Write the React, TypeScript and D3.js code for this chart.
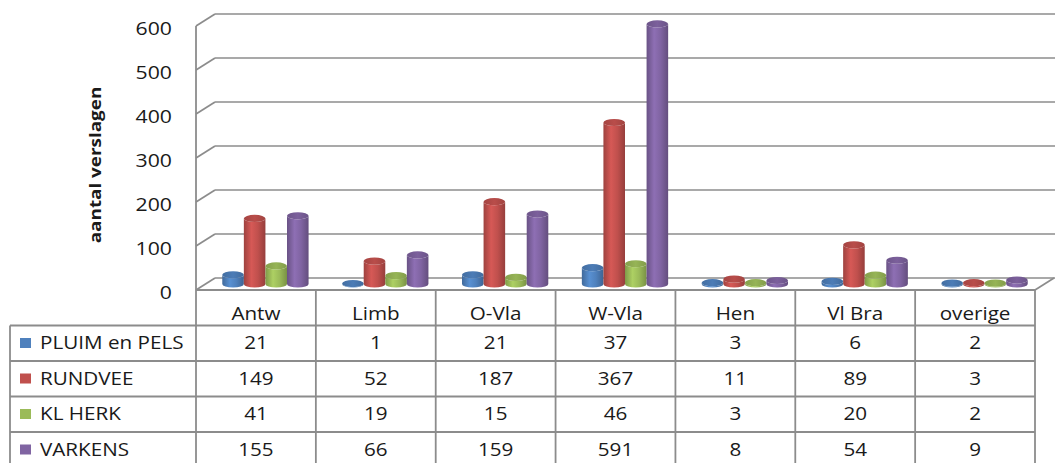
import * as d3 from "d3";

const categories = ["Antw", "Limb", "O-Vla", "W-Vla", "Hen", "Vl Bra", "overige"];
const seriesNames = ["PLUIM en PELS", "RUNDVEE", "KL HERK", "VARKENS"];
const seriesColors = ["#4F81BD", "#C0504D", "#9BBB59", "#8064A2"];
const pluimEnPels = [21, 1, 21, 37, 3, 6, 2];
const rundvee = [149, 52, 187, 367, 11, 89, 3];
const klHerk = [41, 19, 15, 46, 3, 20, 2];
const varkens = [155, 66, 159, 591, 8, 54, 9];
const seriesValues = [pluimEnPels, rundvee, klHerk, varkens];
const yTicks = [0, 100, 200, 300, 400, 500, 600];

const W = 1057;
const H = 463;
// 3d depth offset of the back wall
const DX = 19;
const DY = -12;
const GRID = "#8c8c8c";
const FONT = "'Open Sans', 'DejaVu Sans', sans-serif";
const SX = 1.18; // Excel text looks horizontally stretched

const x = d3.scaleBand<string>().domain(categories).range([196, 1035]);
const yFront = d3.scaleLinear().domain([0, 600]).range([290, 26]);
const yMid = (v: number) => yFront(v) + DY / 2;
const rows = d3
  .scaleBand<string>()
  .domain(["header", ...seriesNames])
  .range([290, 290 + 35.5 * 5]);
const inner = d3
  .scaleBand<number>()
  .domain(d3.range(seriesNames.length))
  .range([0, x.bandwidth() * 0.72]);

function Label({ x, y, size = 17.5, anchor = "middle", weight = 400, rotate = false, children }: any) {
  return (
    <text
      transform={`translate(${x},${y})${rotate ? " rotate(-90)" : ""} scale(${SX},1)`}
      textAnchor={anchor}
      fontSize={size}
      fontWeight={weight}
      fill="#1a1a1a"
      fontFamily={FONT}
    >
      {children}
    </text>
  );
}

function Cylinder({ cx, w, base, top, i }: any) {
  const rx = w / 2;
  const ry = 3.6;
  const body = `M${cx - rx},${top} L${cx - rx},${base} A${rx},${ry} 0 0 0 ${cx + rx},${base} L${cx + rx},${top} A${rx},${ry} 0 0 1 ${cx - rx},${top} Z`;
  return (
    <g>
      <path d={body} fill={`url(#body${i})`} />
      <ellipse cx={cx} cy={top} rx={rx} ry={ry} fill={`url(#cap${i})`} />
    </g>
  );
}

export default function App() {
  const left = 196;
  const right = 1035;
  const tableBottom = H + 5;

  return (
    <svg
      width={W}
      height={H}
      style={{ position: "absolute", left: 0, top: 0, background: "#fff" }}
    >
      <defs>
        {seriesColors.map((c, i) => {
          const base = d3.color(c)!;
          return (
            <g key={i}>
              <linearGradient id={`body${i}`} x1="0" x2="1" y1="0" y2="0">
                <stop offset="0%" stopColor={base.darker(0.55).formatHex()} />
                <stop offset="35%" stopColor={base.brighter(0.3).formatHex()} />
                <stop offset="65%" stopColor={base.formatHex()} />
                <stop offset="100%" stopColor={base.darker(0.7).formatHex()} />
              </linearGradient>
              <linearGradient id={`cap${i}`} x1="0" x2="1" y1="0" y2="0">
                <stop offset="0%" stopColor={base.darker(0.45).formatHex()} />
                <stop offset="50%" stopColor={base.darker(0.1).formatHex()} />
                <stop offset="100%" stopColor={base.darker(0.5).formatHex()} />
              </linearGradient>
            </g>
          );
        })}
      </defs>

      {/* walls and gridlines */}
      {yTicks.map((t) => (
        <g key={t}>
          <line
            x1={left + DX}
            x2={W - 2}
            y1={yFront(t) + DY}
            y2={yFront(t) + DY}
            stroke={GRID}
            strokeWidth={1.7}
          />
          <line
            x1={left}
            x2={left + DX}
            y1={yFront(t)}
            y2={yFront(t) + DY}
            stroke={GRID}
            strokeWidth={1.7}
          />
          <Label x={172} y={yFront(t) + 8.5} anchor="end" size={18}>
            {t}
          </Label>
        </g>
      ))}
      <line x1={left} x2={left} y1={yFront(600)} y2={tableBottom} stroke={GRID} strokeWidth={1.8} />
      <line x1={right} x2={right + DX} y1={yFront(0)} y2={yFront(0) + DY} stroke={GRID} strokeWidth={1.7} />

      <Label x={101} y={165} rotate size={16} weight={700}>
        aantal verslagen
      </Label>

      {/* cylinders */}
      {categories.map((c, ci) => {
        const gx = x(c)! + (x.bandwidth() - inner.range()[1]) / 2 + DX / 2;
        return (
          <g key={c}>
            {seriesValues.map((vals, si) => (
              <Cylinder
                key={si}
                i={si}
                cx={gx + inner(si)! + inner.bandwidth() / 2}
                w={inner.bandwidth()}
                base={yMid(0)}
                top={yMid(vals[ci])}
              />
            ))}
          </g>
        );
      })}

      {/* data table */}
      {rows.domain().map((r, ri) => {
        const top = rows(r)!;
        return (
          <line
            key={r}
            x1={ri === 0 ? left : 10}
            x2={right}
            y1={top}
            y2={top}
            stroke={GRID}
            strokeWidth={1.8}
          />
        );
      })}
      <line x1={10} x2={10} y1={rows(seriesNames[0])!} y2={tableBottom} stroke={GRID} strokeWidth={1.8} />
      {categories.map((c) => (
        <line
          key={c}
          x1={x(c)! + x.bandwidth()}
          x2={x(c)! + x.bandwidth()}
          y1={rows("header")!}
          y2={tableBottom}
          stroke={GRID}
          strokeWidth={1.8}
        />
      ))}
      {categories.map((c) => (
        <Label key={c} x={x(c)! + x.bandwidth() / 2} y={rows("header")! + 30}>
          {c}
        </Label>
      ))}
      {seriesNames.map((s, si) => {
        const top = rows(s)!;
        return (
          <g key={s}>
            <rect x={20} y={top + 12.5} width={11} height={10} fill={seriesColors[si]} />
            <Label x={40} y={top + 23.5} anchor="start">
              {s}
            </Label>
            {categories.map((c, ci) => (
              <Label key={c} x={x(c)! + x.bandwidth() / 2} y={top + 23.5}>
                {seriesValues[si][ci]}
              </Label>
            ))}
          </g>
        );
      })}
    </svg>
  );
}
